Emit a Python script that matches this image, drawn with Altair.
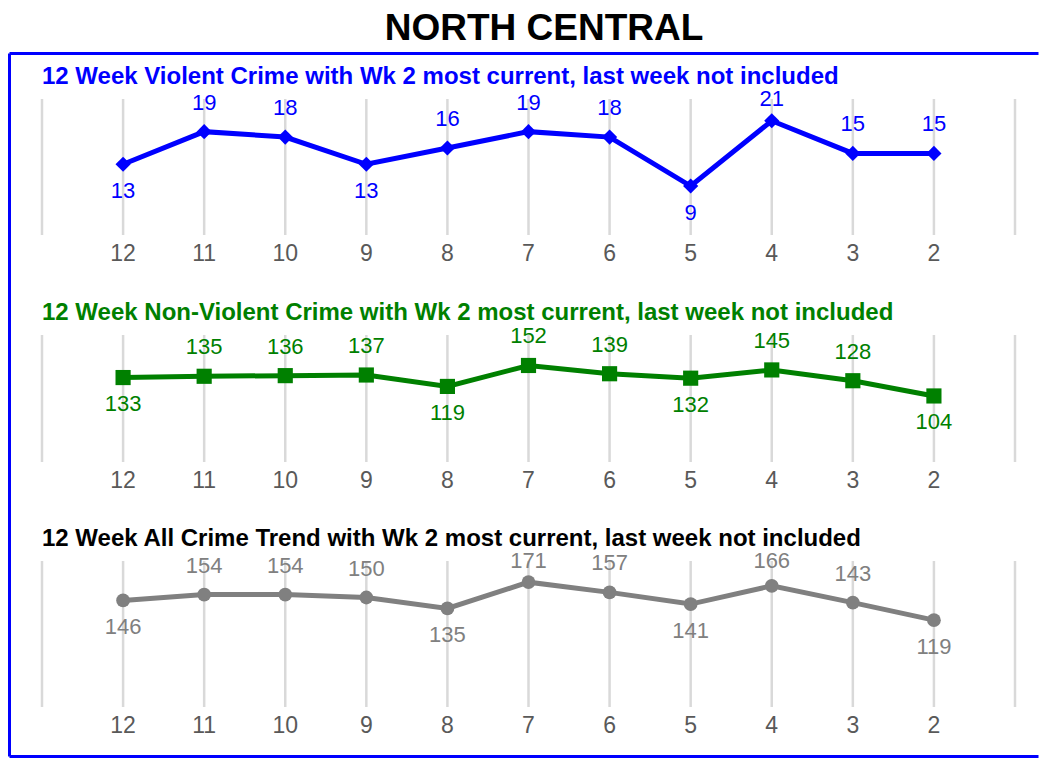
import altair as alt
import pandas as pd

weeks = [12, 11, 10, 9, 8, 7, 6, 5, 4, 3, 2]
violent = [13, 19, 18, 13, 16, 19, 18, 9, 21, 15, 15]
nonviolent = [133, 135, 136, 137, 119, 152, 139, 132, 145, 128, 104]
allcrime = [146, 154, 154, 150, 135, 171, 157, 141, 166, 143, 119]
grid_weeks = [13, 12, 11, 10, 9, 8, 7, 6, 5, 4, 3, 2, 1]

subtitles = [
    "12 Week Violent Crime with Wk 2 most current, last week not included",
    "12 Week Non-Violent Crime with Wk 2 most current, last week not included",
    "12 Week All Crime Trend with Wk 2 most current, last week not included",
]
main_title = "NORTH CENTRAL"

FONT = "Liberation Sans"
W, H = 1032, 706
BORDER = "#0000FF"
BW = 3
LABEL_UP = 29  # px gap between a point and the label drawn above it


def label_pos(vals):
    out = []
    n = len(vals)
    for i, v in enumerate(vals):
        nb = []
        if i > 0:
            nb.append(vals[i - 1])
        if i < n - 1:
            nb.append(vals[i + 1])
        out.append("below" if all(v < u for u in nb) else "above")
    return out


xscale = alt.Scale(domain=[1, 13], range=[1007, 34], nice=False, zero=False)

panels = [
    dict(vals=violent, color="#0000FF", shape="diamond", size=230, domain=[0, 25], rng=[183, 47],
         sub_color="#0000FF", sub=subtitles[0]),
    dict(vals=nonviolent, color="#008000", shape="square", size=230, domain=[0, 200], rng=[410, 283],
         sub_color="#008000", sub=subtitles[1]),
    dict(vals=allcrime, color="#808080", shape="circle", size=190, domain=[0, 200], rng=[655, 509],
         sub_color="#000000", sub=subtitles[2]),
]

one = pd.DataFrame({"a": [0]})
layers = []
for p in panels:
    lo, hi = p["domain"]
    yscale = alt.Scale(domain=p["domain"], range=p["rng"], nice=False, zero=False)
    per_px = (hi - lo) / (p["rng"][0] - p["rng"][1])
    df = pd.DataFrame({"week": weeks, "value": p["vals"], "pos": label_pos(p["vals"])})
    gdf = pd.DataFrame({"week": grid_weeks})
    X = alt.X("week:Q", scale=xscale, axis=None)

    grid = alt.Chart(gdf).mark_rule(color="#d9d9d9", strokeWidth=2.5).encode(
        x=X,
        y=alt.YDatum(lo, type="quantitative", scale=yscale, axis=None),
        y2=alt.Y2Datum(hi),
    )
    base = alt.Chart(df).encode(x=X, y=alt.Y("value:Q", scale=yscale, axis=None))
    line = base.mark_line(color=p["color"], strokeWidth=5)
    pts = base.mark_point(shape=p["shape"], filled=True, size=p["size"], color=p["color"], opacity=1)
    above = (
        alt.Chart(df)
        .transform_filter(alt.datum.pos == "above")
        .transform_calculate(ly=f"min(datum.value + {LABEL_UP * per_px}, {hi})")
        .mark_text(fontSize=22, color=p["color"], font=FONT)
        .encode(x=X, y=alt.Y("ly:Q", scale=yscale, axis=None), text="value:Q")
    )
    below = base.transform_filter(alt.datum.pos == "below").mark_text(
        dy=26.5, fontSize=22, color=p["color"], font=FONT
    ).encode(text="value:Q")
    axis_labels = alt.Chart(df).mark_text(dy=18.5, fontSize=23, color="#595959", font=FONT).encode(
        x=X,
        y=alt.YDatum(lo, type="quantitative", scale=yscale, axis=None),
        text="week:Q",
    )
    sub = alt.Chart(pd.DataFrame({"t": [p["sub"]]})).mark_text(
        align="left", dy=-22, fontSize=24, fontWeight="bold", color=p["sub_color"], font=FONT
    ).encode(
        x=alt.XDatum(13, type="quantitative", scale=xscale, axis=None),
        y=alt.YDatum(hi, type="quantitative", scale=yscale, axis=None),
        text="t:N",
    )
    layers += [grid, line, pts, above, below, axis_labels, sub]

# decorative frame (top, left, bottom; the right side runs off the page as in the reference)
half = BW / 2
frame_top = alt.Chart(one).mark_rule(color=BORDER, strokeWidth=BW).encode(
    x=alt.value(half), x2=alt.value(W - half), y=alt.value(half)
)
frame_bottom = alt.Chart(one).mark_rule(color=BORDER, strokeWidth=BW).encode(
    x=alt.value(half), x2=alt.value(W - half), y=alt.value(H - half)
)
frame_left = alt.Chart(one).mark_rule(color=BORDER, strokeWidth=BW).encode(
    x=alt.value(half), y=alt.value(half), y2=alt.value(H - half)
)
layers += [frame_top, frame_bottom, frame_left]

chart = (
    alt.layer(*layers)
    .resolve_scale(y="independent")
    .properties(
        width=W,
        height=H,
        padding={"top": 2, "left": 0, "right": 0, "bottom": 0},
        title=alt.TitleParams(
            main_title, fontSize=37, fontWeight="bold", font=FONT, color="black",
            anchor="middle", offset=4, dx=20
        ),
    )
    .configure(background="white")
    .configure_view(stroke=None)
)

chart.save("out.html", embed_options={"renderer": "svg", "actions": False})
